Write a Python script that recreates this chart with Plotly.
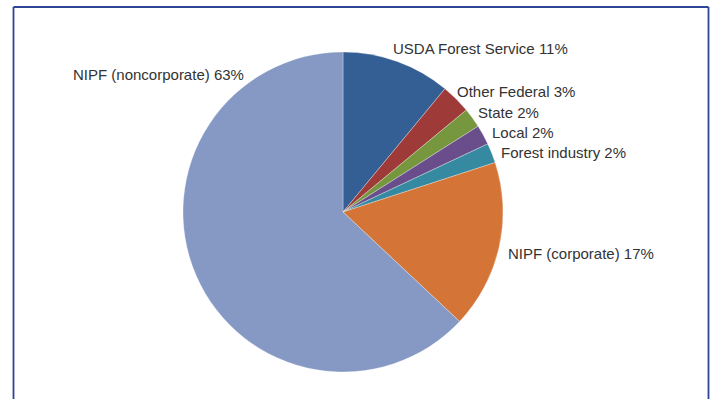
import plotly.graph_objects as go

# Forest land ownership shares (percent)
owners = ["USDA Forest Service", "Other Federal", "State", "Local",
          "Forest industry", "NIPF (corporate)", "NIPF (noncorporate)"]
shares = [11, 3, 2, 2, 2, 17, 63]
colors = ["#335f95", "#9e3b39", "#77973e", "#6a4e8b", "#358aa1", "#d47437", "#8599c4"]

# label anchor points (pixel x of anchor, pixel y of text centre, anchor side)
label_pos = [(391, 48, "left"), (455, 91, "left"), (476, 112, "left"),
             (490, 132, "left"), (499, 153, "left"), (506, 253, "left"),
             (246, 74, "right")]

W, H = 710, 399

fig = go.Figure(go.Pie(
    labels=owners,
    values=shares,
    sort=False,
    direction="clockwise",
    rotation=0,
    marker=dict(colors=colors, line=dict(color="rgba(255,255,255,0.6)", width=0.5)),
    textinfo="none",
    hoverinfo="label+percent",
    showlegend=False,
    domain=dict(x=[183 / W, 503 / W], y=[1 - 372 / H, 1 - 52 / H]),
))

annotations = []
for name, val, (px, py, side) in zip(owners, shares, label_pos):
    annotations.append(dict(
        x=px / W, y=1 - py / H, xref="paper", yref="paper",
        text=f"{name} {val}%", showarrow=False,
        xanchor=side, yanchor="middle",
        font=dict(family="Liberation Sans, Arial, sans-serif", size=15, color="#333333"),
    ))

frame = dict(color="#2e4596", width=1.8)
shapes = [
    dict(type="line", xref="paper", yref="paper", x0=13.5 / W, x1=708.5 / W,
         y0=1 - 7 / H, y1=1 - 7 / H, line=frame),
    dict(type="line", xref="paper", yref="paper", x0=13.5 / W, x1=13.5 / W,
         y0=1 - 7 / H, y1=-0.05, line=frame),
    dict(type="line", xref="paper", yref="paper", x0=708.5 / W, x1=708.5 / W,
         y0=1 - 7 / H, y1=-0.05, line=frame),
]

fig.update_layout(
    width=W, height=H,
    margin=dict(l=0, r=0, t=0, b=0),
    paper_bgcolor="white",
    plot_bgcolor="white",
    annotations=annotations,
    shapes=shapes,
)

fig.write_html("out.html")
